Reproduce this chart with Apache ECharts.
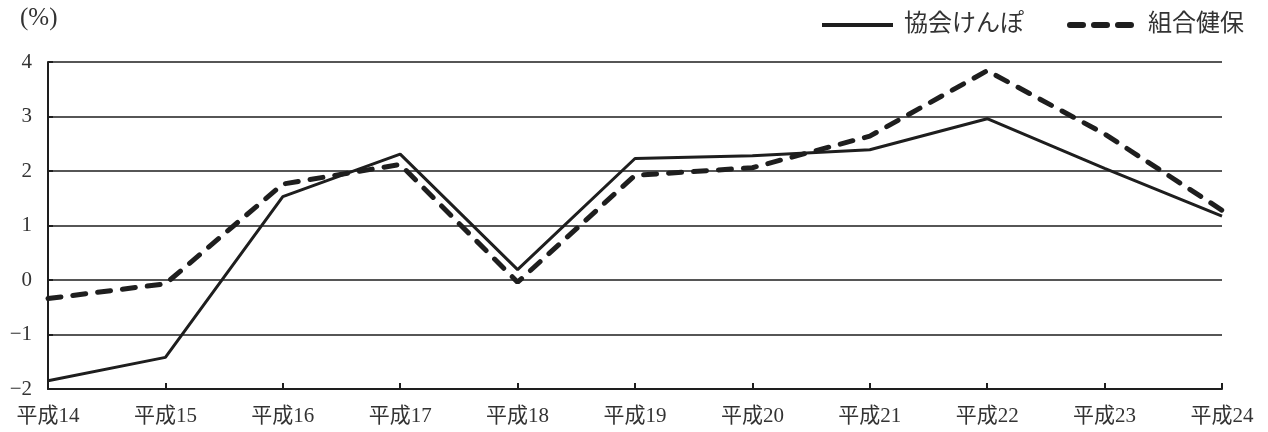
<!DOCTYPE html>
<html>
<head>
<meta charset="utf-8">
<script src="https://cdn.jsdelivr.net/npm/echarts@6/dist/echarts.min.js"></script>
<style>
html,body{margin:0;padding:0;background:#fff;}
#chart{width:1268px;height:432px;}
</style>
</head>
<body>
<div id="chart"></div>
<script>
var categories = ['平成14','平成15','平成16','平成17','平成18','平成19','平成20','平成21','平成22','平成23','平成24'];
var kyokaiKenpo = [-1.85, -1.42, 1.53, 2.31, 0.19, 2.23, 2.28, 2.39, 2.96, 2.05, 1.17];
var kumiaiKenpo = [-0.34, -0.07, 1.76, 2.12, -0.04, 1.92, 2.06, 2.64, 3.84, 2.68, 1.28];
var yTicks = [-2, -1, 0, 1, 2, 3, 4];
var seriesNames = ['協会けんぽ', '組合健保'];
var unitLabel = '(%)';

var serifFont = "'Liberation Serif', 'DejaVu Serif', 'Noto Sans CJK JP', serif";
var sansFont = "'Noto Sans CJK JP', sans-serif";
var ink = '#1e1e1e';
var textInk = '#333';

var chart = echarts.init(document.getElementById('chart'), null, {renderer: 'canvas'});
chart.setOption({
  animation: false,
  backgroundColor: '#ffffff',
  grid: {left: 48, right: 46, top: 62, bottom: 43, containLabel: false},
  legend: {show: false, data: seriesNames},
  graphic: [
    {type: 'text', left: 20, top: 6, style: {text: unitLabel, font: '25px ' + serifFont, fill: textInk}},
    {type: 'line', shape: {x1: 822, y1: 25, x2: 893, y2: 25}, style: {stroke: ink, lineWidth: 4}},
    {type: 'text', left: 904, top: 10, style: {text: seriesNames[0], font: '24px ' + sansFont, fill: textInk}},
    {type: 'line', shape: {x1: 1070, y1: 25, x2: 1131, y2: 25},
     style: {stroke: ink, lineWidth: 6, lineDash: [13, 11], lineCap: 'round'}},
    {type: 'text', left: 1148, top: 10, style: {text: seriesNames[1], font: '24px ' + sansFont, fill: textInk}}
  ],
  xAxis: {
    type: 'category',
    data: categories,
    boundaryGap: false,
    axisLine: {onZero: false, lineStyle: {color: ink, width: 2}},
    axisTick: {show: true, inside: true, length: 6, alignWithLabel: true, lineStyle: {color: ink, width: 2}},
    axisLabel: {margin: 17, fontFamily: serifFont, fontSize: 21, color: textInk, interval: 0},
    splitLine: {show: false}
  },
  yAxis: {
    type: 'value',
    min: yTicks[0], max: yTicks[yTicks.length - 1], interval: 1,
    axisLine: {show: true, lineStyle: {color: ink, width: 2}},
    axisTick: {show: true, inside: true, length: 5, lineStyle: {color: ink, width: 2}},
    axisLabel: {
      margin: 16, fontFamily: serifFont, fontSize: 21, color: textInk, padding: [4, 0, 0, 0],
      formatter: function (v) { return String(v).replace('-', '−'); }
    },
    splitLine: {show: true, lineStyle: {color: ink, width: 1.5}}
  },
  series: [
    {
      name: seriesNames[0], type: 'line', data: kyokaiKenpo,
      symbol: 'none', showSymbol: false,
      lineStyle: {color: ink, width: 3, type: 'solid'},
      itemStyle: {color: ink}
    },
    {
      name: seriesNames[1], type: 'line', data: kumiaiKenpo,
      symbol: 'none', showSymbol: false,
      lineStyle: {color: ink, width: 5, type: [13, 12], cap: 'round'},
      itemStyle: {color: ink}
    }
  ]
});
</script>
</body>
</html>
